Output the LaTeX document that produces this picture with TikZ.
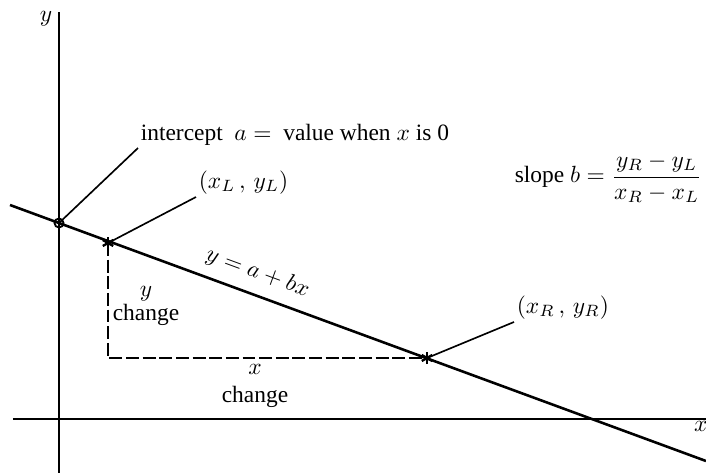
\documentclass[tikz,border=0pt]{standalone}
\usepackage{amsmath}
\usepackage{fontspec}
\setmainfont{Liberation Serif}

\begin{document}
\begin{tikzpicture}[x=0.015cm, y=-0.015cm]

% Stili
\tikzset{
  axisline/.style={line width=0.9pt},
  mainline/.style={line width=1.1pt},
  leader/.style={line width=0.7pt},
  changeline/.style={line width=0.8pt, dash pattern=on 5.5pt off 1.6pt},
  lbl/.style={inner sep=1pt, font=\normalsize}
}

% Area del disegno
\useasboundingbox (0,0) rectangle (706,473);

% Punti
\coordinate (yTop) at (59,12);
\coordinate (yBot) at (59,473);
\coordinate (xLeft) at (13,419);
\coordinate (xRight) at (706,419);
\coordinate (lineStart) at (10,205);
\coordinate (lineEnd) at (706,461);
\coordinate (intcpt) at (59,223);
\coordinate (ptL) at (108,243);
\coordinate (ptR) at (427,358);
\coordinate (corner) at (108,358);

% Assi
\draw[axisline] (yBot) -- (yTop);
\draw[axisline] (xLeft) -- (xRight);
\node[lbl] (yLbl) at (46,19) {$y$};
\node[lbl, inner sep=0pt, anchor=east] (xLbl) at (708,426) {$x$};

% Retta
\draw[mainline] (lineStart) -- (lineEnd)
  node[pos=0.345, sloped, above=1pt] (eqLbl) {$y = a + bx$};

% Variazioni
\draw[changeline] (ptL) -- (corner) -- (ptR);
\node[lbl, align=center] (yChange) at (146,306) {$y$\\[-2pt]change};
\node[lbl, align=center] (xChange) at (255,386) {$x$\\[0pt]change};

% Punti segnati
\draw[line width=0.8pt] (intcpt) circle (4.5);
\foreach \p in {ptL,ptR} {
  \foreach \a in {90,30,150}
    \draw[line width=1pt] (\p) ++(\a:6) -- ++(\a+180:12);
}

% Etichette con linee di richiamo
\node[lbl, anchor=south west] (lblIntercept) at (138,148) {intercept \ $a =$ \ value when $x$ is 0};
\draw[leader] (intcpt) -- (lblIntercept.south west);

\node[lbl, anchor=south west] (lblL) at (196,197) {$(x_L\,,\,y_L)$};
\draw[leader] (ptL) -- (lblL.south west);

\node[lbl, anchor=south west] (lblR) at (514,322) {$(x_R\,,\,y_R)$};
\draw[leader] (ptR) -- (lblR.south west);

% Pendenza
\node[lbl, anchor=west] (slopeLbl) at (512,178) {slope $b = \dfrac{y_R - y_L}{x_R - x_L}$};

\end{tikzpicture}
\end{document}
